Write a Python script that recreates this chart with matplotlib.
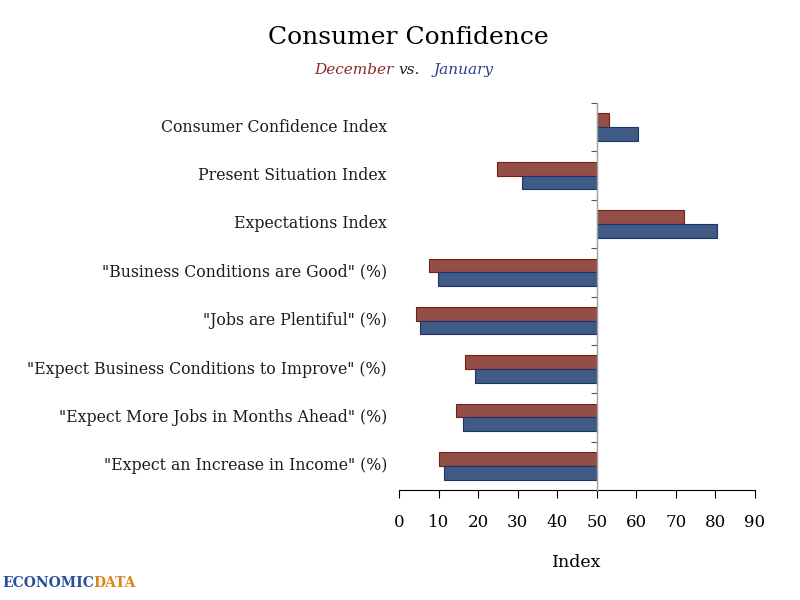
import matplotlib
matplotlib.use("Agg")
import matplotlib.pyplot as plt
import numpy as np
from matplotlib.transforms import blended_transform_factory, offset_copy

categories = [
    "Consumer Confidence Index",
    "Present Situation Index",
    "Expectations Index",
    '"Business Conditions are Good" (%)',
    '"Jobs are Plentiful" (%)',
    '"Expect Business Conditions to Improve" (%)',
    '"Expect More Jobs in Months Ahead" (%)',
    '"Expect an Increase in Income" (%)',
]
december = [53.2, 24.8, 72.1, 7.7, 4.4, 16.8, 14.3, 10.0]
january = [60.5, 31.0, 80.3, 9.8, 5.2, 19.1, 16.1, 11.3]
baseline = 50
xticks = [0, 10, 20, 30, 40, 50, 60, 70, 80, 90]

plt.rcParams['font.family'] = ['DejaVu Serif']

fig = plt.figure(figsize=(8, 6), dpi=100)
ax = fig.add_axes([0.49875, 0.1833, 0.445, 0.645])

y = np.arange(len(categories))
h = 0.285
dec = np.array(december) - baseline
jan = np.array(january) - baseline
ax.barh(y - h / 2, dec, height=h, left=baseline, color="#944E48",
        edgecolor="#7A1E14", linewidth=0.8, zorder=2)
ax.barh(y + h / 2, jan, height=h, left=baseline, color="#3E5A85",
        edgecolor="#1C3566", linewidth=0.8, zorder=2)

ax.set_xlim(0, 90)
ax.set_ylim(len(categories) - 0.5, -0.5)
ax.set_xticks(xticks)
ax.set_xticklabels([str(v) for v in xticks], fontsize=12)
ax.tick_params(axis='x', direction='out', length=6, width=0.8, color='black', pad=11)

ax.spines['top'].set_visible(False)
ax.spines['right'].set_visible(False)
ax.spines['bottom'].set_color('black')
ax.spines['bottom'].set_linewidth(0.8)
ax.spines['left'].set_position(('data', baseline))
ax.spines['left'].set_color('#A0A0A0')
ax.spines['left'].set_linewidth(1.0)
ax.spines['left'].set_zorder(3)

ax.set_yticks(np.arange(len(categories) + 1) - 0.5)
ax.set_yticklabels([])
ax.tick_params(axis='y', direction='out', length=4, width=0.8, color='#555555')

trans = offset_copy(blended_transform_factory(ax.transAxes, ax.transData),
                    fig=fig, x=-12, y=0, units='dots')
for yi, lab in zip(y, categories):
    ax.text(0, yi, lab, transform=trans, ha='right', va='center', fontsize=11.3,
            color='#1a1a1a')

ax.set_xlabel("Index", fontsize=12.5, labelpad=17)

fig.text(0.51, 0.937, "Consumer Confidence", ha='center', va='center', fontsize=18)
fig.text(0.511, 0.883, "vs.", ha='center', va='center', fontsize=11, style='italic',
         color='#222222')
fig.text(0.492, 0.883, "December", ha='right', va='center', fontsize=11, style='italic',
         color='#8B2A2A')
fig.text(0.542, 0.883, "January", ha='left', va='center', fontsize=11, style='italic',
         color='#2B3F8F')

t1 = fig.text(0.003, 0.028, "ECONOMIC", ha='left', va='center', fontsize=10,
              fontweight='bold', color='#2A4F9A')
fig.canvas.draw()
fig.text(0, 0, "DATA", ha='left', va='center', fontsize=10, fontweight='bold',
         color='#D9861E',
         transform=offset_copy(fig.transFigure, fig=fig,
                               x=t1.get_window_extent().x1 - 1,
                               y=0.028 * 600, units='dots'))

fig.savefig("out.png", dpi=100)
